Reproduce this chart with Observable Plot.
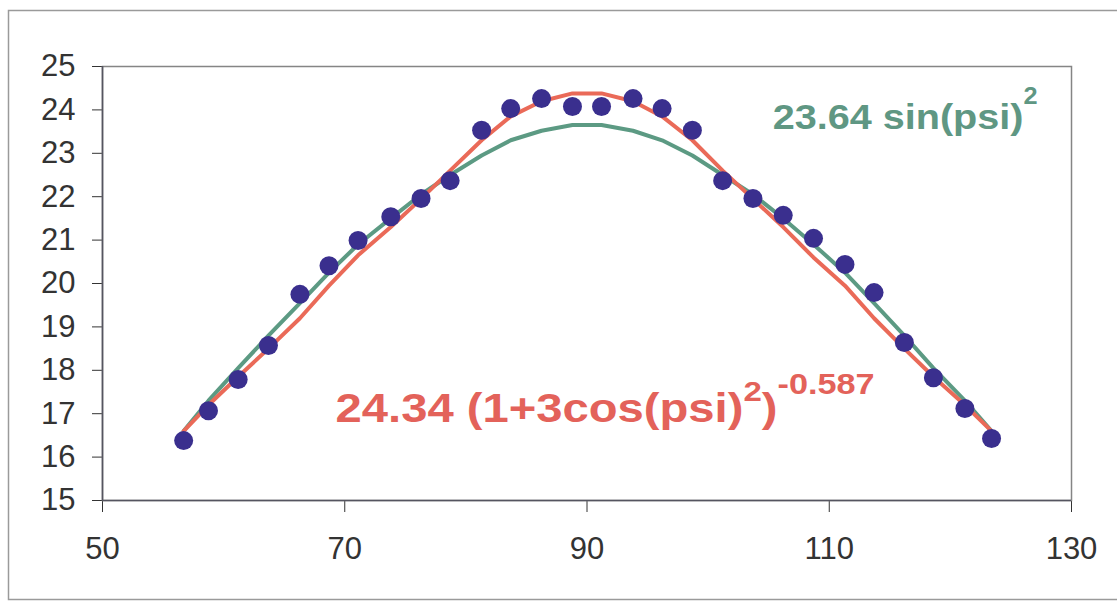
<!DOCTYPE html>
<html>
<head>
<meta charset="utf-8">
<script src="https://cdn.jsdelivr.net/npm/d3@7"></script>
<script src="https://cdn.jsdelivr.net/npm/@observablehq/plot@0.6"></script>
<style>
  html, body { margin: 0; padding: 0; background: #fff; }
</style>
</head>
<body>
<div id="chart"></div>
<script>
// ---- data ----
const psi = [56.7, 58.75, 61.2, 63.7, 66.3, 68.7, 71.1, 73.8, 76.3, 78.7, 81.3, 83.7, 86.25, 88.8,
             91.2, 93.8, 96.2, 98.7, 101.2, 103.7, 106.2, 108.7, 111.3, 113.7, 116.2, 118.6, 121.2, 123.4];
const measured = [16.38, 17.07, 17.79, 18.57, 19.75, 20.41, 20.99, 21.54, 21.96, 22.37, 23.53, 24.03, 24.26, 24.08,
                  24.08, 24.26, 24.03, 23.53, 22.37, 21.96, 21.57, 21.04, 20.44, 19.79, 18.64, 17.83, 17.12, 16.43];
const fitSin = [16.6, 17.3, 18.05, 18.8, 19.55, 20.25, 20.9, 21.5, 22.05, 22.5, 22.95, 23.3, 23.52, 23.65,
                23.65, 23.52, 23.3, 22.95, 22.5, 22.05, 21.5, 20.9, 20.25, 19.55, 18.8, 18.05, 17.3, 16.6];
const fitCos = [16.6, 17.2, 17.85, 18.5, 19.2, 19.95, 20.65, 21.3, 21.95, 22.6, 23.3, 23.85, 24.2, 24.38,
                24.38, 24.2, 23.85, 23.3, 22.6, 21.95, 21.3, 20.6, 19.95, 19.2, 18.5, 17.85, 17.2, 16.6];
const xTicks = [50, 70, 90, 110, 130];
const yTicks = [15, 16, 17, 18, 19, 20, 21, 22, 23, 24, 25];
const labelSin = "23.64 sin(psi)";
const labelSinSup = "2";
const labelCos = "24.34 (1+3cos(psi)";
const labelCosSup1 = "2";
const labelCosMid = ")";
const labelCosSup2 = "-0.587";

const green = "#5c9a83";
const red = "#ea6a58";
const dotColor = "#3a2f8e";
const greenText = "#5f9783";
const redText = "#e3625a";

const chart = Plot.plot({
  width: 1117,
  height: 607,
  marginLeft: 102,
  marginRight: 46,
  marginTop: 66,
  marginBottom: 107,
  style: {
    fontFamily: "'Liberation Sans', Arial, sans-serif",
    fontSize: "31px",
    color: "#333",
    background: "#fff",
    overflow: "visible"
  },
  x: { domain: [50, 130], ticks: xTicks, tickSize: 12, tickPadding: 24, label: null },
  y: { domain: [15, 25], ticks: yTicks, tickSize: 10, tickPadding: 17, label: null },
  marks: [
    Plot.frame({ stroke: "#858585", strokeWidth: 1.5 }),
    Plot.ruleX([50], { stroke: "#555560", strokeWidth: 1.6 }),
    Plot.ruleY([15], { stroke: "#555560", strokeWidth: 1.6 }),
    Plot.line(fitSin, { x: psi, y: fitSin, stroke: green, strokeWidth: 4 }),
    Plot.line(fitCos, { x: psi, y: fitCos, stroke: red, strokeWidth: 4 }),
    Plot.dot(measured, { x: psi, y: measured, r: 9.5, fill: dotColor, stroke: "none" }),
    Plot.text([labelSin], {
      x: () => 105.33, y: () => 23.836, text: d => d,
      textAnchor: "start", fill: greenText, fontSize: 36, fontWeight: "bold"
    }),
    Plot.text([labelCos], {
      x: () => 69.24, y: () => 17.11, text: d => d,
      textAnchor: "start", fill: redText, fontSize: 40, fontWeight: "bold"
    })
  ]
});

document.getElementById("chart").appendChild(chart);

const svg = d3.select(chart);
// outer frame of the figure
svg.insert("rect", ":first-child")
  .attr("x", 8.5).attr("y", 10.5).attr("width", 1140).attr("height", 589)
  .attr("fill", "none").attr("stroke", "#9a9a9a").attr("stroke-width", 1.5);

function stretch(t, k) {
  const tr = t.attr("transform") || "";
  t.attr("transform", tr + ` scale(${k},1)`);
}
svg.selectAll("text").filter(function () { return this.textContent === labelSin; })
  .each(function () {
    const t = d3.select(this);
    stretch(t, 1.1);
    t.append("tspan").attr("dy", -25).attr("font-size", 23).text(labelSinSup);
  });
svg.selectAll("text").filter(function () { return this.textContent === labelCos; })
  .each(function () {
    const t = d3.select(this);
    stretch(t, 1.18);
    t.append("tspan").attr("dy", -21).attr("font-size", 28).text(labelCosSup1);
    t.append("tspan").attr("dy", 21).text(labelCosMid);
    t.append("tspan").attr("dy", -28).attr("font-size", 29).text(labelCosSup2);
  });
</script>
</body>
</html>
